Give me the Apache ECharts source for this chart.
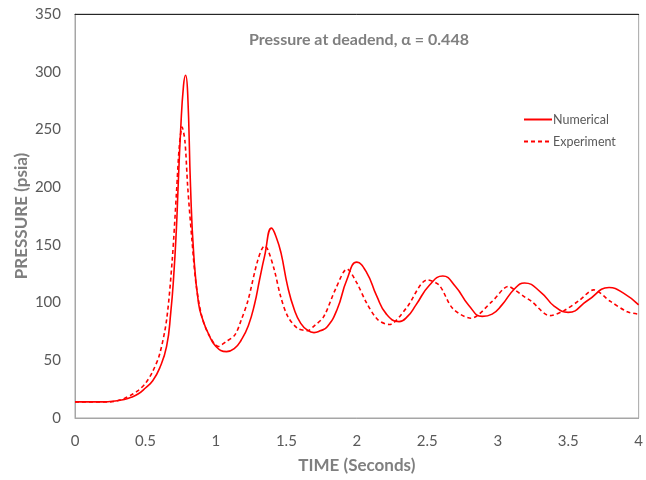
<!DOCTYPE html>
<html>
<head>
<meta charset="utf-8">
<script src="https://cdn.jsdelivr.net/npm/echarts@6/dist/echarts.min.js"></script>
<style>html,body{margin:0;padding:0;background:#fff}#c{width:646px;height:480px}</style>
</head>
<body>
<div id="c"></div>
<script>
var titleText = 'Pressure at deadend, \u03b1 = 0.448';
var xTicks = [0, 0.5, 1, 1.5, 2, 2.5, 3, 3.5, 4];
var yTicks = [0, 50, 100, 150, 200, 250, 300, 350];

var numTime = [0, 0.2, 0.3, 0.35, 0.4, 0.45, 0.5, 0.55, 0.6, 0.65, 0.68, 0.7, 0.72, 0.73, 0.75, 0.77, 0.785, 0.8, 0.82, 0.842, 0.877, 0.91, 0.947, 1.0, 1.076, 1.13, 1.18, 1.23, 1.275, 1.31, 1.345, 1.395, 1.43, 1.462, 1.509, 1.556, 1.602, 1.65, 1.696, 1.74, 1.79, 1.86, 1.93, 2.0, 2.07, 2.14, 2.21, 2.3, 2.36, 2.42, 2.515, 2.61, 2.7, 2.795, 2.89, 2.96, 3.03, 3.12, 3.19, 3.31, 3.4, 3.5, 3.64, 3.79, 3.895, 4.0];
var numVal  = [14, 14, 15, 16, 18, 21, 26, 32, 43, 62, 92, 122, 165, 195, 250, 288, 297, 280, 200, 143, 99, 84, 73, 62, 57.5, 60, 67.6, 80, 99, 120, 140, 164.5, 156, 143, 114, 94, 82, 76, 74, 75.5, 79, 94, 120, 135, 126, 106, 90, 83.5, 88, 98, 115, 123, 114, 97.5, 88, 90, 98, 112, 117, 108.5, 97, 91.5, 102, 113, 108, 98];

var expTime = [0, 0.25, 0.3, 0.35, 0.4, 0.45, 0.5, 0.55, 0.6, 0.65, 0.69, 0.72, 0.74, 0.76, 0.78, 0.8, 0.83, 0.86, 0.9, 0.95, 1.017, 1.07, 1.135, 1.18, 1.228, 1.298, 1.345, 1.368, 1.415, 1.46, 1.51, 1.58, 1.65, 1.7, 1.766, 1.85, 1.93, 2.0, 2.07, 2.15, 2.23, 2.35, 2.5, 2.585, 2.68, 2.81, 2.96, 3.075, 3.12, 3.19, 3.24, 3.37, 3.47, 3.58, 3.68, 3.8, 3.92, 4.0];
var expVal  = [14, 14, 15, 17, 20, 24, 30, 40, 55, 85, 137, 195, 235, 252, 240, 200, 154, 115, 88, 72, 62, 66, 72, 85, 102, 137, 149, 146, 128, 105, 88, 77.6, 75.7, 80, 88, 112, 129, 117, 99.5, 85, 81, 95, 119.6, 115, 95, 86.4, 101, 114, 111, 105, 101, 88.7, 93, 102, 111, 101, 92, 90];

function pairs(t, v) { return t.map(function (x, i) { return [x, v[i]]; }); }

var chart = echarts.init(document.getElementById('c'));
var tickColor = '#595959';
var font = 'Lato, "Open Sans", sans-serif';
chart.setOption({
  animation: false,
  backgroundColor: '#fff',
  title: {
    text: titleText, left: 354, top: 27, textAlign: 'center',
    textStyle: { fontFamily: font, fontSize: 16, fontWeight: 'bold', color: '#7f7f7f' }
  },
  legend: {
    orient: 'vertical', left: 518, top: 108, itemGap: 9, itemWidth: 28, itemHeight: 10,
    itemStyle: { opacity: 0 },
    textStyle: { fontFamily: font, fontSize: 12.5, color: tickColor, padding: [0, 0, 0, -4] },
    data: ['Numerical', 'Experiment']
  },
  grid: { left: 75, right: 1, top: 14, bottom: 62, show: true, borderColor: '#a6a6a6', borderWidth: 1, containLabel: false },
  xAxis: [{
    type: 'value', min: 0, max: 4, interval: 0.5,
    name: 'TIME (Seconds)', nameLocation: 'middle', nameGap: 39, nameMoveOverlap: false,
    nameTextStyle: { fontFamily: font, fontSize: 17, fontWeight: 'bold', color: '#7f7f7f' },
    axisLine: { show: true, lineStyle: { color: '#a6a6a6' } },
    axisTick: { show: false }, splitLine: { show: false },
    axisLabel: { fontFamily: font, fontSize: 15, color: tickColor, margin: 16, formatter: function (v) { return xTicks.indexOf(v) >= 0 ? String(v) : ''; } }
  }, {
    type: 'value', min: 0, max: 4, position: 'top',
    axisLine: { show: true, lineStyle: { color: '#262626', width: 1 } },
    axisTick: { show: false }, axisLabel: { show: false }, splitLine: { show: false }
  }],
  yAxis: {
    type: 'value', min: 0, max: 350, interval: 50,
    name: 'PRESSURE (psia)', nameLocation: 'middle', nameGap: 45, nameMoveOverlap: false,
    nameTextStyle: { fontFamily: font, fontSize: 17, fontWeight: 'bold', color: '#7f7f7f' },
    axisLine: { show: true, lineStyle: { color: '#a6a6a6' } },
    axisTick: { show: false }, splitLine: { show: false },
    axisLabel: { fontFamily: font, fontSize: 15, color: tickColor, margin: 14, formatter: function (v) { return yTicks.indexOf(v) >= 0 ? String(v) : ''; } }
  },
  series: [{
    name: 'Numerical', type: 'line', data: pairs(numTime, numVal), smooth: 0.5,
    symbol: 'none', lineStyle: { color: '#ff0000', width: 1.6 }, itemStyle: { color: '#ff0000' }
  }, {
    name: 'Experiment', type: 'line', data: pairs(expTime, expVal), smooth: 0.3,
    symbol: 'none', lineStyle: { color: '#ff0000', width: 1.6, type: [4, 3] }, itemStyle: { color: '#ff0000' }
  }]
});
</script>
</body>
</html>
